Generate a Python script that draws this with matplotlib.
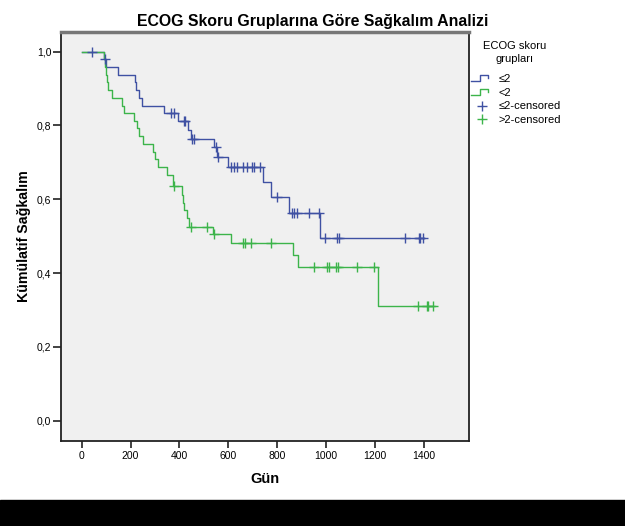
import numpy as np
import matplotlib
matplotlib.use('Agg')
import matplotlib.pyplot as plt
from matplotlib.legend_handler import HandlerBase
from matplotlib.lines import Line2D
from matplotlib.ticker import FuncFormatter

plt.rcParams['font.family'] = ['Liberation Sans', 'DejaVu Sans']

# ≤2 group: step times (days) and survival after each step
t_low = [0, 93, 101, 149, 218, 224, 236, 245, 338, 396, 437, 446, 540, 553, 601, 743, 777, 848, 977, 1400]
s_low = [1.0, 0.979, 0.958, 0.938, 0.917, 0.896, 0.875, 0.854, 0.833, 0.811, 0.788, 0.764, 0.741, 0.715,
         0.688, 0.647, 0.607, 0.563, 0.494, 0.494]
c_low_t = [43, 97, 366, 379, 418, 423, 453, 460, 548, 560, 610, 622, 634, 662, 676, 699, 706, 732,
           801, 860, 870, 881, 931, 971, 997, 1046, 1053, 1324, 1382, 1386, 1399]

# >2 group
t_high = [0, 93, 97, 100, 103, 106, 125, 166, 175, 214, 228, 236, 252, 293, 300, 312, 348, 375,
          410, 416, 418, 430, 441, 539, 610, 867, 887, 1215, 1447]
s_high = [1.0, 0.979, 0.958, 0.938, 0.917, 0.896, 0.875, 0.854, 0.833, 0.813, 0.792, 0.771, 0.750,
          0.729, 0.708, 0.688, 0.667, 0.635, 0.612, 0.591, 0.570, 0.549, 0.526, 0.506, 0.481,
          0.449, 0.416, 0.312, 0.312]
c_high_t = [379, 448, 513, 543, 659, 669, 692, 774, 953, 1004, 1014, 1042, 1051, 1127, 1197,
            1379, 1413, 1420, 1440]

labels = ['≤2', '<2', '≤2-censored', '>2-censored']
x_ticks = [0, 200, 400, 600, 800, 1000, 1200, 1400]
y_ticks = [0.0, 0.2, 0.4, 0.6, 0.8, 1.0]

blue = '#3f51a3'
green = '#3cb44a'


def surv_at(times, surv, t):
    i = np.searchsorted(times, t, side='right') - 1
    return np.asarray(surv)[i]


class StepHandler(HandlerBase):
    def create_artists(self, legend, orig_handle, xdescent, ydescent, width, height, fontsize, trans):
        w = width * 0.75
        xs = np.array([0, 0.5, 0.5, 1.0, 1.0]) * w - xdescent
        ys = np.array([0.15, 0.15, 0.85, 0.85, 0.45]) * height - ydescent
        ln = Line2D(xs, ys, color=orig_handle.get_color(), lw=1.0, transform=trans)
        return [ln]


fig = plt.figure(figsize=(6.25, 5.26), dpi=100)
ax = fig.add_axes([0.0976, 0.161, 0.6524, 0.7787])
ax.set_facecolor('#f0f0f0')

l1, = ax.step(t_low, s_low, where='post', color=blue, lw=1.0)
l2, = ax.step(t_high, s_high, where='post', color=green, lw=1.0)
m1, = ax.plot(c_low_t, surv_at(t_low, s_low, c_low_t), '+', color=blue, ms=7, mew=1.0)
m2, = ax.plot(c_high_t, surv_at(t_high, s_high, c_high_t), '+', color=green, ms=7, mew=1.0)

ax.set_xlim(-85, 1585)
ax.set_ylim(-0.056, 1.054)
ax.set_xticks(x_ticks)
ax.set_yticks(y_ticks)
ax.yaxis.set_major_formatter(FuncFormatter(lambda v, p: f'{v:.1f}'.replace('.', ',')))
ax.tick_params(labelsize=7.5, width=1.3, color='#333333')
ax.tick_params(axis='x', pad=2, length=5)
ax.tick_params(axis='y', pad=1, length=6)

for side in ['left', 'bottom', 'right']:
    ax.spines[side].set_color('#222222')
    ax.spines[side].set_linewidth(1.3)
ax.spines['top'].set_color('#777777')
ax.spines['top'].set_linewidth(2.5)

ax.set_xlabel('Gün', fontsize=10.5, fontweight='bold', labelpad=8)
ax.set_ylabel('Kümülatif Sağkalım', fontsize=10.2, fontweight='bold', labelpad=4)
fig.suptitle('ECOG Skoru Gruplarına Göre Sağkalım Analizi', fontsize=11.4, fontweight='bold',
             x=0.5, y=0.974)

fig.text(0.823, 1 - 52.6 / 526, 'ECOG skoru\ngrupları', ha='center', va='center',
         multialignment='center', fontsize=8, linespacing=1.28)
leg = fig.legend([l1, l2, m1, m2], labels, loc='upper left', bbox_to_anchor=(0.750, 0.8637),
                 frameon=False, fontsize=8, handlelength=2.07, handletextpad=0.45,
                 labelspacing=0.34, borderaxespad=0, borderpad=0.2,
                 handler_map={l1: StepHandler(), l2: StepHandler()})

# black strip at the bottom of the image
fig.patches.append(plt.Rectangle((0, 0), 1, 26 / 526, transform=fig.transFigure,
                                 color='black', zorder=10))

fig.savefig('out.png', dpi=100)
